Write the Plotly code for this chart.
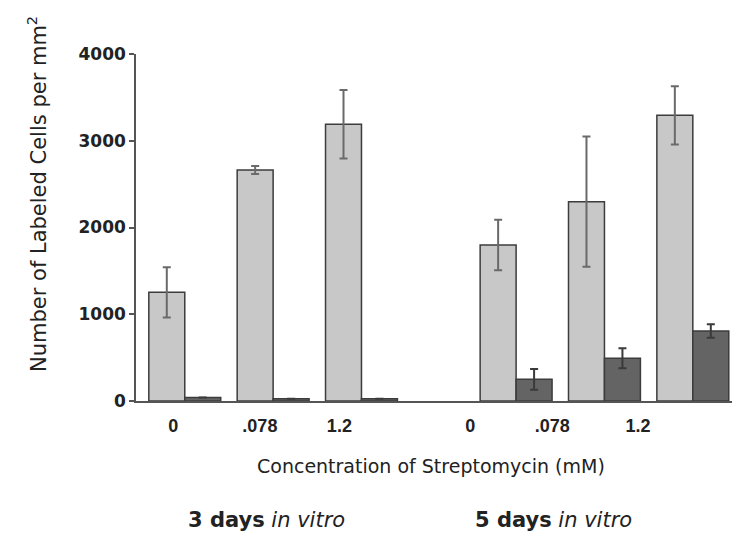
import plotly.graph_objects as go

# Data
group_pos = [0, 1, 2, 3.75, 4.75, 5.75]
conc_labels = ["0", ".078", "1.2", "0", ".078", "1.2"]
tick_pos = [-0.13, 0.85, 1.75, 3.23, 4.16, 5.13]
light_vals = [1253, 2663, 3190, 1798, 2298, 3293]
light_err = [290, 45, 395, 290, 750, 335]
dark_vals = [40, 25, 25, 250, 492, 807]
dark_err = [0, 0, 0, 120, 115, 77]
period_days = ["3 days", "5 days"]
period_pos = [0.92, 4.17]
y_ticks = [0, 1000, 2000, 3000, 4000]

SANS = "Liberation Sans, Arial, Helvetica, sans-serif"
WIDE = "DejaVu Sans, Verdana, sans-serif"
w = 0.407

# page has an 8px body margin: figure sits at (8, 8)
W, H = 732, 531
PL, PT, PW, PH = 136, 54, 604, 347  # plot area in page pixels

fig = go.Figure()
fig.add_trace(go.Bar(
    x=group_pos, y=light_vals, width=w, offset=-w,
    marker=dict(color="#c8c8c8", line=dict(color="#3c3c3c", width=1.5)),
    error_y=dict(type="data", array=light_err, color="#6a6a6a", thickness=2, width=4),
    showlegend=False,
))
fig.add_trace(go.Bar(
    x=group_pos, y=dark_vals, width=w, offset=0,
    marker=dict(color="#646464", line=dict(color="#3c3c3c", width=1.5)),
    error_y=dict(type="data", array=dark_err, color="#3a3a3a", thickness=2, width=4),
    showlegend=False,
))

fig.update_layout(
    width=W, height=H,
    margin=dict(l=PL - 8, r=W - (PL - 8) - PW, t=PT - 8, b=H - (PT - 8) - PH),
    plot_bgcolor="white", paper_bgcolor="white",
    barmode="overlay",
    font=dict(family=SANS, color="#222"),
    xaxis=dict(
        range=[-0.552, 6.284],
        showgrid=False, zeroline=False,
        showline=True, linecolor="#555", linewidth=1.5,
        tickvals=tick_pos, ticktext=[f"<b>{t}</b>" for t in conc_labels],
        ticks="", tickfont=dict(size=18, family=SANS, color="#222"),
        ticklabelstandoff=8,
    ),
    yaxis=dict(
        range=[0, 4000],
        showgrid=False, zeroline=False,
        showline=True, linecolor="#555", linewidth=1.5,
        tickvals=y_ticks,
        ticktext=[f"<b>{v}</b>" for v in y_ticks],
        ticks="outside", ticklen=5, tickcolor="#555", tickwidth=1.5,
        tickfont=dict(size=17, family=WIDE, color="#222"),
    ),
)

def px_x(px):
    return (px - PL) / PW

def px_y(py):
    return (PT + PH - py) / PH

fig.add_annotation(
    text="Number of Labeled Cells per mm<sup>2</sup>",
    xref="paper", yref="paper", x=px_x(37), y=px_y(194),
    textangle=-90, showarrow=False,
    font=dict(size=21, family=WIDE, color="#222"),
    xanchor="center", yanchor="middle",
)
fig.add_annotation(
    text="Concentration of Streptomycin (mM)",
    xref="paper", yref="paper", x=px_x(430.5), y=px_y(466),
    showarrow=False, font=dict(size=19, family=WIDE, color="#222"),
    xanchor="center", yanchor="middle",
)
for lab, pos in zip(period_days, period_pos):
    fig.add_annotation(
        text=f"<b>{lab}</b> <i>in vitro</i>",
        xref="x", yref="paper", x=pos, y=px_y(520),
        showarrow=False, font=dict(size=21, family=WIDE, color="#222"),
        xanchor="center", yanchor="middle",
    )

fig.write_html("out.html")
